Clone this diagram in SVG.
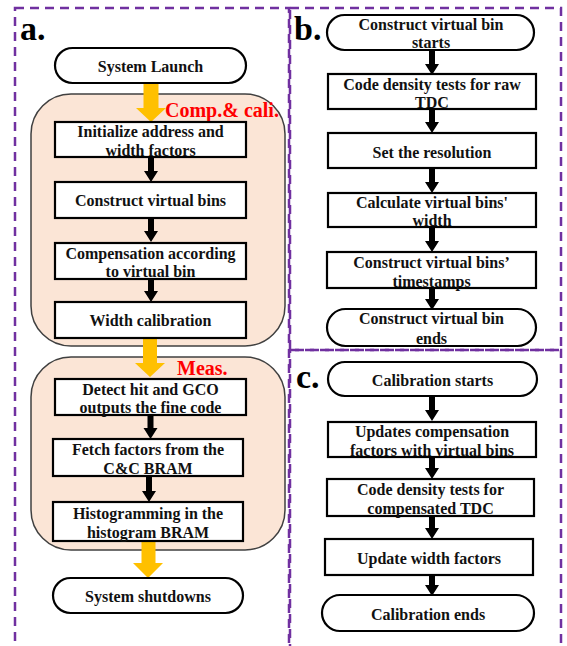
<svg xmlns="http://www.w3.org/2000/svg" width="567" height="646" viewBox="0 0 567 646" font-family="Liberation Serif, serif" font-weight="bold">
<style>
.panel{fill:none;stroke:#7030A0;stroke-width:2.5;stroke-dasharray:9 6}
.grp{fill:#FBE5D6;stroke:#404040;stroke-width:1.5}
.box{fill:#fff;stroke:#000;stroke-width:2.2}
.t{font-size:16px;fill:#111;text-anchor:middle;dominant-baseline:central}
.lbl{font-size:34px;fill:#000}
.red{font-size:20px;fill:#FF0000}
.ba{fill:#000}
.ga{fill:#FFC000}
</style>
<rect width="567" height="646" fill="#fff"/>
<g id="panels">
<rect class="panel" x="15" y="8" width="274" height="650"/>
<rect class="panel" x="290" y="8" width="271" height="342"/>
<rect class="panel" x="290" y="350" width="271" height="308"/>
<text class="lbl" x="20" y="40">a.</text>
<text class="lbl" x="294" y="40">b.</text>
<text class="lbl" x="296" y="388">c.</text>
</g>
<g id="group-comp">
<rect class="grp" x="31" y="94" width="254" height="252" rx="40"/>
<text class="red" x="165" y="117">Comp.&amp; cali.</text>
</g>
<g id="group-meas">
<rect class="grp" x="31" y="357" width="254" height="193" rx="40"/>
<text class="red" x="177" y="375">Meas.</text>
</g>
<g id="connectors">
<polygon class="ga" points="143.5,83 158.5,83 158.5,108 166,108 151,122 136,108 143.5,108"/>
<polygon class="ga" points="143,338 157,338 157,363 165,363 150,377 135,363 143,363"/>
<polygon class="ga" points="141.5,541 155.5,541 155.5,563 163,563 148,578 133,563 141.5,563"/>
<polygon class="ba" points="148,157 154,157 154,171 158,171 151,182 144,171 148,171"/>
<polygon class="ba" points="148,218 154,218 154,231 158,231 151,242 144,231 148,231"/>
<polygon class="ba" points="148,279 154,279 154,291 158,291 151,302 144,291 148,291"/>
<polygon class="ba" points="147.5,415 153.5,415 153.5,428 157.5,428 150.5,439 143.5,428 147.5,428"/>
<polygon class="ba" points="146,476 152,476 152,491 156,491 149,502 142,491 146,491"/>
<polygon class="ba" points="429,50 435,50 435,64 439,64 432,75 425,64 429,64"/>
<polygon class="ba" points="429,109 435,109 435,122 439,122 432,133 425,122 429,122"/>
<polygon class="ba" points="429,168 435,168 435,182 439,182 432,193 425,182 429,182"/>
<polygon class="ba" points="429,227 435,227 435,241 439,241 432,252 425,241 429,241"/>
<polygon class="ba" points="429,288 435,288 435,299 439,299 432,310 425,299 429,299"/>
<polygon class="ba" points="429,396 435,396 435,410 439,410 432,421 425,410 429,410"/>
<polygon class="ba" points="429,457 435,457 435,468 439,468 432,479 425,468 429,468"/>
<polygon class="ba" points="429,516 435,516 435,528 439,528 432,539 425,528 429,528"/>
<polygon class="ba" points="429,575 435,575 435,585 439,585 432,596 425,585 429,585"/>
</g>
<g id="a-launch">
<rect class="box" x="55" y="48" width="191" height="35" rx="17.5"/>
<text class="t" x="150.5" y="66">System Launch</text>
</g>
<g id="a-init">
<rect class="box" x="55" y="122" width="191" height="35"/>
<text class="t" x="150.5" y="131">Initialize address and</text>
<text class="t" x="150.5" y="150">width factors</text>
</g>
<g id="a-construct">
<rect class="box" x="55" y="182" width="191" height="36"/>
<text class="t" x="150.5" y="200">Construct virtual bins</text>
</g>
<g id="a-comp">
<rect class="box" x="55" y="243" width="191" height="36"/>
<text class="t" x="150.5" y="253">Compensation according</text>
<text class="t" x="150.5" y="271">to virtual bin</text>
</g>
<g id="a-width">
<rect class="box" x="55" y="302" width="191" height="36"/>
<text class="t" x="150.5" y="320">Width calibration</text>
</g>
<g id="a-detect">
<rect class="box" x="55" y="379" width="191" height="36"/>
<text class="t" x="150.5" y="389">Detect hit and GCO</text>
<text class="t" x="150.5" y="407">outputs the fine code</text>
</g>
<g id="a-fetch">
<rect class="box" x="53" y="439" width="190" height="37"/>
<text class="t" x="148" y="449">Fetch factors from the</text>
<text class="t" x="148" y="468">C&amp;C BRAM</text>
</g>
<g id="a-hist">
<rect class="box" x="53" y="502" width="190" height="39"/>
<text class="t" x="148" y="513">Histogramming in the</text>
<text class="t" x="148" y="532">histogram BRAM</text>
</g>
<g id="a-shutdown">
<rect class="box" x="53" y="578" width="190" height="35" rx="17.5"/>
<text class="t" x="148" y="596">System shutdowns</text>
</g>
<g id="b-start">
<rect class="box" x="327" y="15" width="207" height="35" rx="17.5"/>
<text class="t" x="431" y="24">Construct virtual bin</text>
<text class="t" x="431" y="42">starts</text>
</g>
<g id="b-cdt">
<rect class="box" x="328" y="74" width="208" height="35"/>
<text class="t" x="432" y="84">Code density tests for raw</text>
<text class="t" x="432" y="102">TDC</text>
</g>
<g id="b-res">
<rect class="box" x="328" y="133" width="208" height="35"/>
<text class="t" x="432" y="152">Set the resolution</text>
</g>
<g id="b-calc">
<rect class="box" x="328" y="193" width="208" height="34"/>
<text class="t" x="432" y="202">Calculate virtual bins'</text>
<text class="t" x="432" y="220">width</text>
</g>
<g id="b-ts">
<rect class="box" x="327" y="252" width="209" height="36"/>
<text class="t" x="431.5" y="262">Construct virtual bins’</text>
<text class="t" x="431.5" y="281">timestamps</text>
</g>
<g id="b-end">
<rect class="box" x="327" y="309" width="209" height="37" rx="18.5"/>
<text class="t" x="431.5" y="318">Construct virtual bin</text>
<text class="t" x="431.5" y="338">ends</text>
</g>
<g id="c-start">
<rect class="box" x="328" y="362" width="209" height="34" rx="17"/>
<text class="t" x="432.5" y="380">Calibration starts</text>
</g>
<g id="c-upd">
<rect class="box" x="328" y="422" width="208" height="35"/>
<text class="t" x="432" y="431">Updates compensation</text>
<text class="t" x="432" y="450">factors with virtual bins</text>
</g>
<g id="c-cdt">
<rect class="box" x="327" y="479" width="207" height="37"/>
<text class="t" x="430.5" y="489">Code density tests for</text>
<text class="t" x="430.5" y="508">compensated TDC</text>
</g>
<g id="c-width">
<rect class="box" x="325" y="539" width="208" height="36"/>
<text class="t" x="429" y="558">Update width factors</text>
</g>
<g id="c-end">
<rect class="box" x="322" y="595" width="212" height="36" rx="18"/>
<text class="t" x="428" y="614">Calibration ends</text>
</g>
</svg>
